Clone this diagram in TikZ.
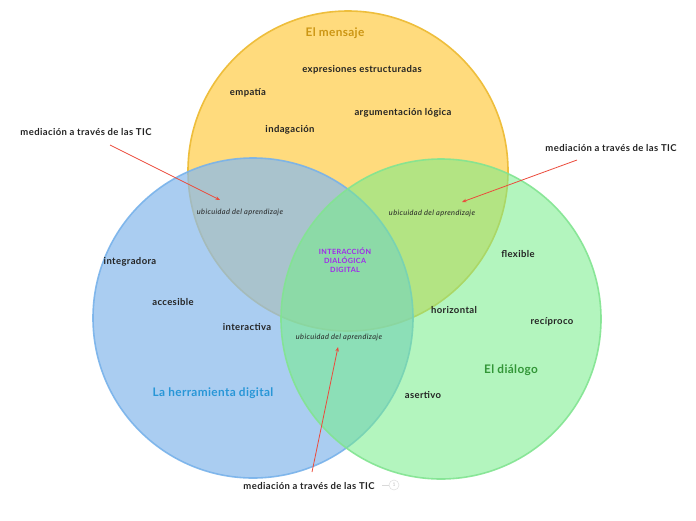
\documentclass[tikz,border=0pt]{standalone}
\usepackage{fontspec}
\setmainfont{Lato}
\newfontfamily\lblfont[LetterSpace=4]{Lato}
\newfontfamily\ubifont[LetterSpace=5]{Lato}
\newfontfamily\ttlfont[LetterSpace=3]{Lato}
\usetikzlibrary{arrows.meta}
\definecolor{ylwfill}{RGB}{255,219,125}
\definecolor{ylwline}{RGB}{238,190,60}
\definecolor{bluefill}{RGB}{137,186,236}
\definecolor{blueline}{RGB}{120,178,234}
\definecolor{grnfill}{RGB}{117,237,137}
\definecolor{grnline}{RGB}{130,228,145}
\definecolor{ttlgold}{RGB}{204,150,20}
\definecolor{ttlblue}{RGB}{40,150,215}
\definecolor{ttlgreen}{RGB}{50,150,55}
\definecolor{ctrpurple}{RGB}{160,40,235}
\definecolor{arrred}{RGB}{235,75,60}
\definecolor{txtdark}{RGB}{35,35,35}
\tikzset{
  lbl/.style={font=\lblfont\fontsize{9.5}{11}\selectfont\bfseries, text=txtdark, inner sep=0pt},
  ubi/.style={font=\ubifont\fontsize{7.4}{8}\selectfont\itshape, text=txtdark, inner sep=0pt},
  ttl/.style={font=\ttlfont\fontsize{11.8}{13}\selectfont\bfseries, inner sep=0pt},
  ctr/.style={font=\ubifont\fontsize{7.2}{9}\selectfont\bfseries, text=ctrpurple, align=center, inner sep=0pt},
  redarrow/.style={draw=arrred, line width=0.8pt, -{Stealth[length=4.5pt,width=3.5pt]}},
}
\begin{document}
\begin{tikzpicture}[x=1pt,y=-1pt]
\useasboundingbox (0,0) rectangle (696,520);
% circles
\fill[ylwfill] (348,171) circle (160);
\draw[ylwline, line width=1.6pt] (348,171) circle (160);
\fill[bluefill, fill opacity=0.72] (253,318) circle (160);
\draw[blueline, line width=1.6pt, draw opacity=0.9] (253,318) circle (160);
\fill[grnfill, fill opacity=0.55] (441,319) circle (160);
\draw[grnline, line width=1.6pt, draw opacity=0.9] (441,319) circle (160);
% titles
\node[ttl, text=ttlgold] (tmsg) at (335,33) {El mensaje};
\node[ttl, text=ttlblue] (therr) at (213,393) {La herramienta digital};
\node[ttl, text=ttlgreen] (tdia) at (511,370) {El diálogo};
% yellow terms
\node[lbl] (expr) at (362,69.5) {expresiones estructuradas};
\node[lbl] (emp) at (248,92.5) {empatía};
\node[lbl] (arg) at (403,112.5) {argumentación lógica};
\node[lbl] (ind) at (290,129.5) {indagación};
% blue terms
\node[lbl] (integ) at (130,261.5) {integradora};
\node[lbl] (acc) at (173,302.5) {accesible};
\node[lbl] (inter) at (247,326.5) {interactiva};
% green terms
\node[lbl] (flex) at (518,253.5) {flexible};
\node[lbl] (hor) at (454,310.5) {horizontal};
\node[lbl] (rec) at (552,321.5) {recíproco};
\node[lbl] (ase) at (423,394.5) {asertivo};
% intersections
\node[ubi] (ubiL) at (240,212.5) {ubicuidad del aprendizaje};
\node[ubi] (ubiR) at (432,213.5) {ubicuidad del aprendizaje};
\node[ubi] (ubiB) at (339,337.5) {ubicuidad del aprendizaje};
\node[ctr] (center) at (345,260.5) {INTERACCIÓN\\DIALÓGICA\\DIGITAL};
% mediation labels
\node[lbl] (medL) at (86,132.5) {mediación a través de las TIC};
\node[lbl] (medR) at (611,148.5) {mediación a través de las TIC};
\node[lbl] (medB) at (309,485.5) {mediación a través de las TIC};
\coordinate (aLs) at (110,145);
\coordinate (aLe) at (220,200);
\coordinate (aRs) at (577,160);
\coordinate (aRe) at (462,202);
\coordinate (aBs) at (312,472);
\coordinate (aBe) at (338,347);
\draw[redarrow] (aLs) -- (aLe);
\draw[redarrow] (aRs) -- (aRe);
\draw[redarrow] (aBs) -- (aBe);
% collapsed indicator
\coordinate (dashA) at (382,485);
\node[circle, draw=black!12, line width=0.6pt, minimum size=10pt, inner sep=0pt, font=\fontsize{5}{6}\selectfont, text=black!25] (cnt) at (394,485) {1};
\draw[black!15, line width=0.6pt] (dashA) -- (cnt);
\end{tikzpicture}
\end{document}
